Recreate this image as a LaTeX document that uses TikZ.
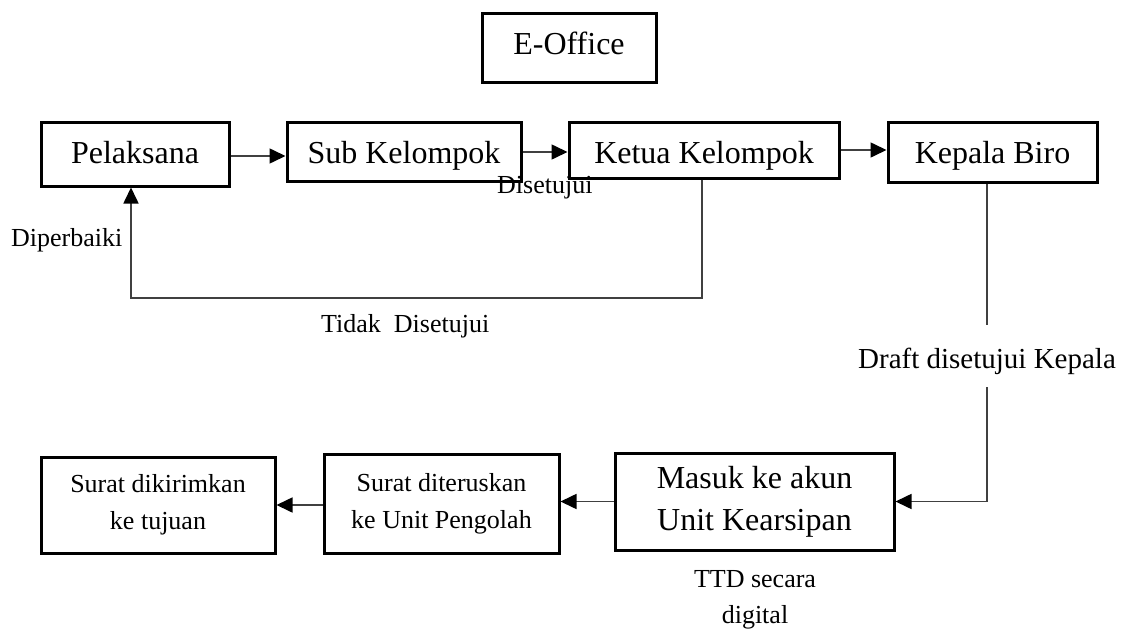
\documentclass[tikz,border=0pt]{standalone}
\usepackage{fontspec}
\setmainfont{Liberation Serif}
\usetikzlibrary{arrows.meta}
\begin{document}
\begin{tikzpicture}[x=1pt,y=-1pt,
  box/.style={draw=black, line width=3pt, inner sep=0pt, anchor=base,
    font=\fontsize{32}{38}\selectfont},
  mbox/.style={draw=black, line width=3pt, inner sep=0pt, align=center},
  lbl/.style={inner sep=0pt, font=\fontsize{26}{36}\selectfont},
  link/.style={draw=black!75, line width=1.6pt},
  arr/.style={link, -{Triangle[length=16pt,width=15pt,color=black]}}]
\useasboundingbox (0,0) rectangle (1127,629);

% header
\node[box, minimum width=174pt, text height=41.5pt, text depth=28pt] (eoff) at (569,54.5) {E-Office};

% approval chain
\node[box, minimum width=188pt, text height=41pt, text depth=23pt] (pel) at (135,163) {Pelaksana};
\node[box, minimum width=234pt, text height=41pt, text depth=18pt] (sub) at (404,163) {Sub Kelompok};
\node[box, minimum width=270pt, text height=41pt, text depth=15pt] (ket) at (704,163) {Ketua Kelompok};
\node[box, minimum width=209pt, text height=41pt, text depth=19pt] (kep) at (992.5,163) {Kepala Biro};

% archive and dispatch
\node[mbox, minimum width=279pt, minimum height=97pt, font=\fontsize{32}{42}\selectfont] (mas) at (754.5,501.5) {Masuk ke akun\\Unit Kearsipan};
\node[mbox, minimum width=235pt, minimum height=99pt, font=\fontsize{26}{37}\selectfont] (ter) at (441.5,503.5) {Surat diteruskan\\ke Unit Pengolah};
\node[mbox, minimum width=234pt, minimum height=96pt, font=\fontsize{26}{37}\selectfont] (kir) at (158,505) {Surat dikirimkan\\ke tujuan};

% labels
\node[lbl, anchor=base west] (dis) at (497,193) {Disetujui};
\node[lbl, anchor=base west] (dip) at (11,246) {Diperbaiki};
\node[lbl, anchor=base west] (tdk) at (321,332) {Tidak\ \ Disetujui};
\node[inner sep=0pt, anchor=base, font=\fontsize{29}{34}\selectfont] (draft) at (987,368) {Draft disetujui Kepala};
\node[lbl, anchor=north, align=center] (ttd) at (755,570) {TTD secara\\digital};

% connectors
\draw[arr] (pel.east |- 0,156) -- (sub.west |- 0,156);
\draw[arr] (sub.east |- 0,152) -- (ket.west |- 0,152);
\draw[arr] (ket.east |- 0,150) -- (kep.west |- 0,150);
\draw[arr] (ket.south -| 702,0) -- (702,298) -- (131,298) -- (pel.south -| 131,0);
\draw[link] (kep.south -| draft.north) -- ([yshift=22pt]draft.north);
\draw[arr] ([yshift=-13pt]draft.south) -- (draft.south |- mas.east) -- (mas.east);
\draw[arr] (mas.west) -- (ter.east |- mas.west);
\draw[arr] (ter.west |- kir.east) -- (kir.east);
\end{tikzpicture}
\end{document}
